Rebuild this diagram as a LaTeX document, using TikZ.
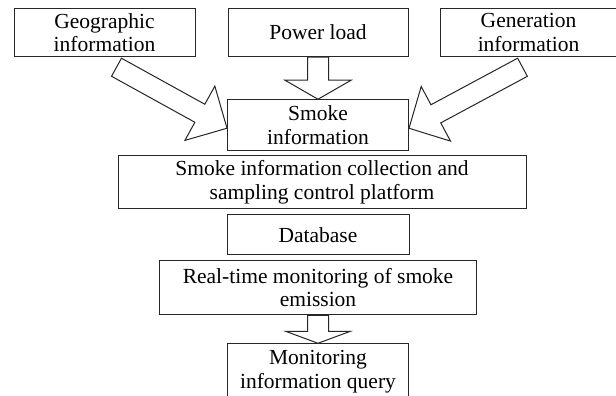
\documentclass[tikz,border=0pt]{standalone}
\usepackage{fontspec}
\setmainfont{Liberation Serif}
\usetikzlibrary{positioning,calc}
\newcommand{\blockarrow}[5]{% tail, tip, shaft half width, head half width, head length
  \coordinate (ba) at ($(#2)!#5!(#1)$);
  \draw[blockline] ($(#1)!#3!90:(#2)$) -- ($(ba)!#3!90:(#2)$) -- ($(ba)!#4!90:(#2)$)
    -- (#2) -- ($(ba)!#4!-90:(#2)$) -- ($(ba)!#3!-90:(#2)$) -- ($(#1)!#3!-90:(#2)$) -- cycle;}

\begin{document}
\begin{tikzpicture}[x=1pt,y=-1pt,line width=1pt,
                    every node/.style={font=\fontsize{21.5}{23.5}\selectfont}]
  \tikzstyle{box}=[draw=black!85,fill=white,align=center,inner sep=1pt]
  \tikzstyle{blockline}=[draw=black!85,fill=white,line join=miter]

  \useasboundingbox (0,0) rectangle (616,396);

  \node[box,minimum width=181pt,minimum height=48.5pt] (geo) at (104.5,32.5) {Geographic\\information};
  \node[box,minimum width=180pt,minimum height=48.5pt] (power) [right=32pt of geo] {Power load};
  \node[box,minimum width=177pt,minimum height=48.5pt] (gen) [right=31pt of power] {Generation\\information};
  \node[box,minimum width=181pt,minimum height=51pt] (smoke) [below=42pt of power] {Smoke\\information};
  \node[box,minimum width=408pt,minimum height=53pt] (platform) [below=4pt of smoke,xshift=4pt] {Smoke information collection and\\sampling control platform};
  \node[box,minimum width=182pt,minimum height=40pt] (db) [below=5pt of platform,xshift=-4pt] {Database};
  \node[box,minimum width=317pt,minimum height=54pt] (rt) [below=5pt of db] {Real-time monitoring of smoke\\emission};
  \node[box,minimum width=181pt,minimum height=56pt] (query) [below=28pt of rt] {Monitoring\\information query};

  \coordinate (geotail) at ($(geo.south)+(12,10)$);
  \coordinate (gentail) at ($(gen.south)+(-6,10)$);
  \coordinate (smokeleft) at ([yshift=-3pt]smoke.west);
  \coordinate (smokeright) at ([yshift=-3pt]smoke.east);

  \blockarrow{geotail}{smokeleft}{10.3pt}{31pt}{31pt}
  \blockarrow{gentail}{smokeright}{10.3pt}{31pt}{30.5pt}
  \blockarrow{power.south}{smoke.north}{10.5pt}{33pt}{19pt}
  \blockarrow{rt.south}{query.north}{10.5pt}{32.5pt}{12pt}
\end{tikzpicture}
\end{document}
